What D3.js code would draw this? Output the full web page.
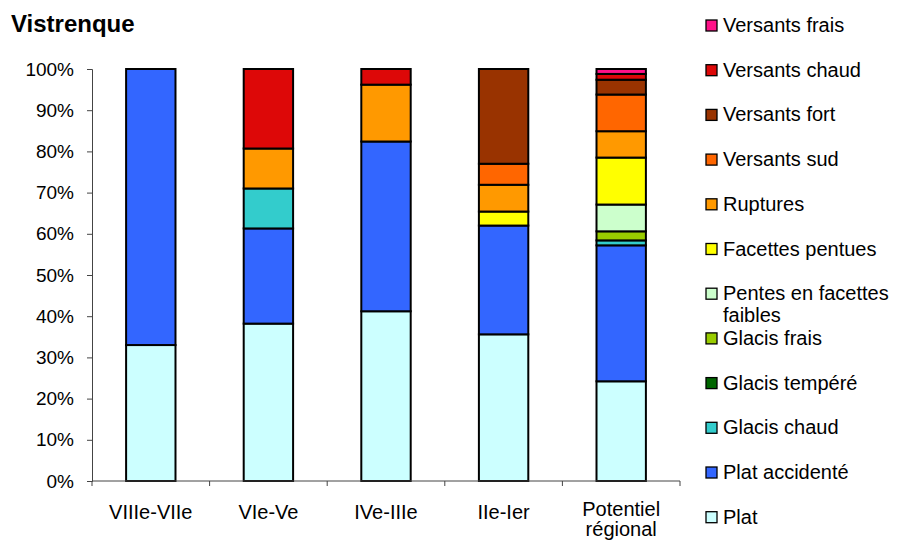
<!DOCTYPE html>
<html>
<head>
<meta charset="utf-8">
<script src="https://cdn.jsdelivr.net/npm/d3@7"></script>
<style>
  body { margin: 0; background: #fff; }
  text { font-family: "Liberation Sans", Arial, sans-serif; fill: #000; }
</style>
</head>
<body>
<div id="my_dataviz"></div>
<script>
// categories on the x axis
var periods = ["VIIIe-VIIe", "VIe-Ve", "IVe-IIIe", "IIe-Ier", "Potentiel régional"];

// stack order, bottom to top
var classes = ["Plat", "Plat accidenté", "Glacis chaud", "Glacis tempéré", "Glacis frais",
  "Pentes en facettes faibles", "Facettes pentues", "Ruptures", "Versants sud",
  "Versants fort", "Versants chaud", "Versants frais"];

var classColors = ["#ccffff", "#3366ff", "#33cccc", "#006600", "#99cc00",
  "#ccffcc", "#ffff00", "#ff9900", "#ff6600", "#993300", "#dd0808", "#ff1188"];

// percentages per class, one value per period
var plat           = [33.0, 38.2, 41.2, 35.6, 24.2];
var platAccidente  = [67.0, 23.1, 41.2, 26.4, 33.0];
var glacisChaud    = [0, 9.7, 0, 0, 1.2];
var glacisTempere  = [0, 0, 0, 0, 0];
var glacisFrais    = [0, 0, 0, 0, 2.2];
var pentesFaibles  = [0, 0, 0, 0, 6.5];
var facettesPentues = [0, 0, 0, 3.4, 11.4];
var ruptures       = [0, 9.7, 13.8, 6.5, 6.4];
var versantsSud    = [0, 0, 0, 5.1, 8.9];
var versantsFort   = [0, 0, 0, 23.0, 3.6];
var versantsChaud  = [0, 19.3, 3.8, 0, 1.4];
var versantsFrais  = [0, 0, 0, 0, 1.2];

var yTicks = [0, 10, 20, 30, 40, 50, 60, 70, 80, 90, 100];

var series = [plat, platAccidente, glacisChaud, glacisTempere, glacisFrais, pentesFaibles,
  facettesPentues, ruptures, versantsSud, versantsFort, versantsChaud, versantsFrais];

var data = periods.map(function(p, i) {
  var row = { period: p };
  classes.forEach(function(c, k) { row[c] = series[k][i]; });
  return row;
});

var width = 903, height = 542;
var margin = { top: 69, right: 223, bottom: 61, left: 92 };

var svg = d3.select("#my_dataviz")
  .append("svg")
    .attr("width", width)
    .attr("height", height);

var x = d3.scaleBand()
  .domain(periods)
  .range([margin.left, width - margin.right])
  .paddingInner(0.58)
  .paddingOuter(0.29);

var y = d3.scaleLinear()
  .domain([0, 100])
  .range([height - margin.bottom, margin.top]);

var color = d3.scaleOrdinal().domain(classes).range(classColors);

var stack = d3.stack().keys(classes);
var layers = stack(data);

// bars
svg.append("g")
  .selectAll("g")
  .data(layers)
  .enter()
  .append("g")
    .attr("fill", function(d) { return color(d.key); })
  .selectAll("rect")
  .data(function(d) { return d.filter(function(s) { return s[1] - s[0] > 0; }); })
  .enter()
  .append("rect")
    .attr("x", function(d) { return x(d.data.period); })
    .attr("y", function(d) { return y(d[1]); })
    .attr("width", x.bandwidth())
    .attr("height", function(d) { return y(d[0]) - y(d[1]); })
    .attr("stroke", "#000")
    .attr("stroke-width", 2);

// y axis
var yAxis = svg.append("g")
  .attr("transform", "translate(" + margin.left + ",0)")
  .call(d3.axisLeft(y).tickValues(yTicks).tickSize(5).tickPadding(13)
    .tickFormat(function(d) { return d + "%"; }));
yAxis.selectAll("text").style("font-size", "19px");
yAxis.select(".domain").attr("stroke", "#444");
yAxis.selectAll(".tick line").attr("stroke", "#444");

// x axis: ticks sit between categories
var xAxis = svg.append("g")
  .attr("transform", "translate(0," + y(0) + ")");
xAxis.append("line")
  .attr("x1", margin.left).attr("x2", width - margin.right)
  .attr("stroke", "#444");
var step = x.step();
var edges = d3.range(periods.length + 1).map(function(i) {
  return x(periods[0]) - (x.paddingInner() * step) / 2 + i * step;
});
xAxis.selectAll(".xt")
  .data(edges)
  .enter()
  .append("line")
    .attr("x1", function(d) { return d; })
    .attr("x2", function(d) { return d; })
    .attr("y1", 0).attr("y2", 5)
    .attr("stroke", "#444");

var xLabels = xAxis.selectAll(".xl")
  .data(periods)
  .enter()
  .append("text")
    .attr("x", function(d) { return x(d) + x.bandwidth() / 2; })
    .attr("y", function(d) { return d === "Potentiel régional" ? 35 : 38; })
    .style("text-anchor", "middle")
    .style("font-size", "20px");
xLabels.each(function(d) {
  var words = d === "Potentiel régional" ? ["Potentiel", "régional"] : [d];
  var t = d3.select(this);
  words.forEach(function(w, i) {
    t.append("tspan")
      .attr("x", x(d) + x.bandwidth() / 2)
      .attr("dy", i === 0 ? 0 : 20)
      .text(w);
  });
});

// title
svg.append("text")
  .attr("x", 11)
  .attr("y", 32)
  .style("font-size", "24px")
  .style("font-weight", "bold")
  .text("Vistrenque");

// legend, top entry is the top of the stack
var legendItems = classes.slice().reverse();
var legend = svg.append("g")
  .selectAll("g")
  .data(legendItems)
  .enter()
  .append("g")
    .attr("transform", function(d, i) {
      return "translate(706," + (25 + i * 44.7) + ")";
    });

legend.append("rect")
  .attr("x", 0)
  .attr("y", -5)
  .attr("width", 11)
  .attr("height", 11)
  .attr("fill", function(d) { return color(d); })
  .attr("stroke", "#000")
  .attr("stroke-width", 1.3);

legend.append("text")
  .attr("x", 17)
  .attr("y", 7)
  .style("font-size", "20px")
  .each(function(d) {
    var lines = d === "Pentes en facettes faibles" ? ["Pentes en facettes", "faibles"] : [d];
    var t = d3.select(this);
    lines.forEach(function(w, i) {
      t.append("tspan").attr("x", 17).attr("dy", i === 0 ? 0 : 22).text(w);
    });
  });
</script>
</body>
</html>
